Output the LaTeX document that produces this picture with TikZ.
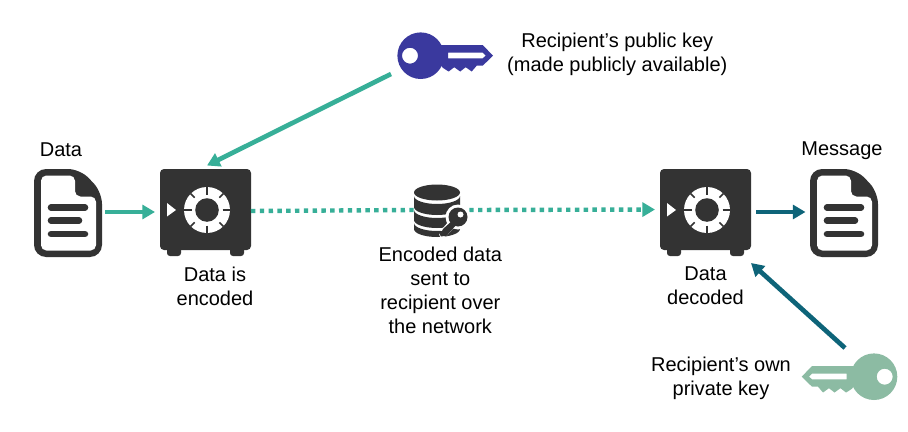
\documentclass[tikz,border=0pt]{standalone}
\usepackage{fontspec}
\setmainfont{Liberation Sans}
\usetikzlibrary{arrows.meta}
\definecolor{tealc}{HTML}{37AF98}
\definecolor{deepc}{HTML}{0E6479}
\definecolor{darkc}{HTML}{333333}
\definecolor{pubc}{HTML}{3A399E}
\definecolor{privc}{HTML}{8CBBA3}
\tikzset{
  txt/.style={font=\fontsize{15pt}{18pt}\selectfont,text=black,align=center,inner sep=0pt},
  box/.style={inner sep=0pt,outer sep=0pt,minimum width=#1,minimum height=66pt},
  conn/.style={line width=3.5pt,-{Triangle[length=9.5pt,width=10.5pt]}},
  dots/.style={conn,line width=3.3pt,dash pattern=on 3.3pt off 3.3pt},
  safepic/.pic={
    \fill[darkc,rounded corners=3pt] (0,0) rectangle (91,81);
    \fill[darkc,rounded corners=2.2pt] (7,70) rectangle (21,87);
    \fill[darkc,rounded corners=2.2pt] (70,70) rectangle (84,87);
    \fill[white] (7,34) -- (16,41) -- (7,47.5) -- cycle;
    \fill[white] (47,41) circle (23);
    \fill[darkc] (47,41) circle (11.8);
    \foreach \a in {0,90,180,270}
      \draw[darkc,line width=1.1pt] (47,41) ++(\a:15.5) -- ++(\a:7.8);
    \foreach \a in {45,135,225,315}
      \draw[darkc,line width=1.1pt] (47,41) ++(\a:17.5) -- ++(\a:5.8);
  },
  docpic/.pic={
    \fill[darkc,rounded corners=9pt] (0,0) -- (46,0) -- (68,23) -- (68,88) -- (0,88) -- cycle;
    \fill[white,rounded corners=4pt] (7,6.5) -- (41,6.5) -- (41,27.5) -- (62,27.5) -- (62,81.5) -- (7,81.5) -- cycle;
    \draw[darkc,line width=4.9pt,line cap=round]
      (17,38.5) -- (51,38.5) (17,51.5) -- (45,51.5) (17,65) -- (51,65);
  },
  keypic/.pic={
    \fill[even odd rule,pic actions] (0,0) circle (23.3) (-10.7,0) circle (8);
    \fill[even odd rule,pic actions]
      (19,-10.7) -- (62,-10.7) -- (72.3,0) -- (62,10) -- (56,10) -- (51,15.8) -- (45,11.5) -- (39.5,15.8) -- (33.5,11.5)
      -- (28,15.8) -- (25,14) -- (22,12) -- (19,8) -- cycle
      (27.5,-3) -- (62,-3) -- (65,0) -- (62,2.6) -- (27.5,2.6) -- cycle;
  }
}
\begin{document}
\begin{tikzpicture}[x=0.75pt,y=-0.75pt]
\useasboundingbox[fill=white] (0,0) rectangle (908,432);

% icons
\node[box=51pt] (docL) at (68,213) {};
\pic at (34,169) {docpic};
\node[box=51pt] (docR) at (844,213) {};
\pic at (810,169) {docpic};
\node[box=68.25pt] (safeL) at (205.5,213) {};
\pic at (160,169) {safepic};
\node[box=68.25pt] (safeR) at (705.5,213) {};
\pic at (660,169) {safepic};
\node[circle,inner sep=0pt,minimum size=34.5pt] (pub) at (420.7,55.7) {};
\pic[fill=pubc] at (420.7,55.7) {keypic};
\node[circle,inner sep=0pt,minimum size=34.5pt] (priv) at (874,376.7) {};
\pic[fill=privc,xscale=-1] at (874,376.7) {keypic};

% connector ends that stop short of the icons
\coordinate (pubEnd) at (391,74);
\coordinate (safeLtop) at (207,165.5);
\coordinate (privEnd) at (845,348);
\coordinate (safeRbot) at (751,263);

% connectors
\draw[conn,tealc,shorten <=2.25pt,shorten >=3.75pt] ([yshift=0.75pt]docL.east) -- ([yshift=0.75pt]safeL.west);
\draw[conn,tealc] (pubEnd) -- (safeLtop);
\node[inner sep=0pt,minimum width=40.5pt,minimum height=39pt] (db) at (441,210) {};
\draw[dots,tealc,-] ([yshift=1.5pt]safeL.east) -- (db.west);
\draw[dots,tealc,shorten <=0.75pt,shorten >=3.75pt] (db.east) -- ([yshift=2.6pt]safeR.west);
\draw[conn,deepc,shorten <=3.75pt,shorten >=3.4pt] ([yshift=0.75pt]safeR.east) -- ([yshift=0.75pt]docR.west);
\draw[conn,deepc] (privEnd) -- (safeRbot);

% database with key
\fill[darkc] (414,192.5) arc[start angle=180,end angle=0,x radius=23,y radius=8]
  arc[start angle=0,end angle=180,x radius=23,y radius=-8] -- cycle;
\fill[darkc] (414,196) arc[start angle=180,end angle=0,x radius=23,y radius=8]
  -- (460,207) arc[start angle=0,end angle=180,x radius=23,y radius=8] -- cycle;
\fill[darkc] (414,210) arc[start angle=180,end angle=0,x radius=23,y radius=8]
  -- (460,220) arc[start angle=0,end angle=180,x radius=23,y radius=8] -- cycle;
\fill[darkc] (414,223) arc[start angle=180,end angle=0,x radius=23,y radius=8]
  -- (460,229) arc[start angle=0,end angle=180,x radius=23,y radius=8] -- cycle;
\fill[white] (458,217) circle (12.5);
\draw[white,line width=6pt,line cap=round] (443,234) -- (457,218);
\fill[darkc] (458,217) circle (9.5);
\fill[white] (460.5,214.5) circle (3);
\fill[darkc] (453,220) -- (457,224) -- (446,236.5) -- (444,236) -- (441,236.5) -- (439,233) -- (439,231) -- (442,231) -- (443,229) -- cycle;

% labels
\node[txt] (tData) at (61,149.5) {Data};
\node[txt] (tPub) at (617.3,54) {Recipient’s public key\\(made publicly available)};
\node[txt] (tEnc) at (215,286) {Data is\\encoded};
\node[txt] (tNet) at (440.3,290) {Encoded data\\sent to\\recipient over\\the network};
\node[txt] (tMsg) at (842,150.5) {Message};
\node[txt] (tDec) at (705.5,286) {Data\\decoded};
\node[txt] (tPriv) at (721,378.5) {Recipient’s own\\private key};
\end{tikzpicture}
\end{document}
